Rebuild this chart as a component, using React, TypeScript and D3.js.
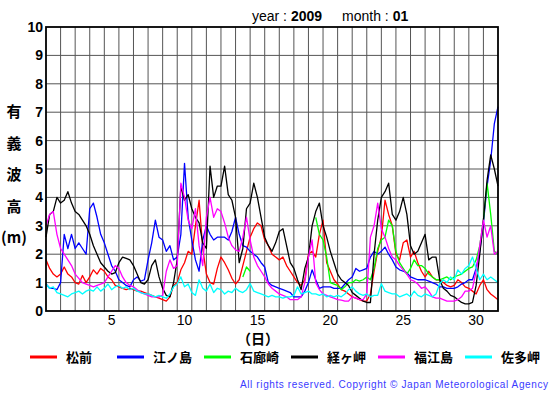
import * as d3 from "d3";

// 6-hourly significant wave height (m), Jan 2009, t = 1.00, 1.25, ... 32.00 (day)
const START_DAY = 1;
const STEP = 0.25;

const matsumae = [
  1.8, 1.5, 1.3, 1.2, 1.3, 1.55, 1.3, 1.2, 1.0, 0.95, 1.25, 1.0, 1.2, 1.45, 1.3, 1.5,
  1.4, 1.2, 1.1, 0.9, 0.85, 0.8, 0.75, 0.8, 0.75, 0.7, 0.7, 0.65, 0.6, 0.55, 0.5, 0.45,
  0.4, 0.35, 0.5, 0.9, 1.0, 1.45, 1.7, 2.1, 2.0, 3.0, 3.9, 2.2, 1.3, 1.0, 0.95, 1.5,
  1.9, 1.7, 1.45, 1.15, 0.95, 1.1, 1.6, 2.1, 2.6, 2.9, 3.1, 3.0, 2.5, 2.3, 2.0, 1.9,
  1.8, 1.9, 1.6, 1.4, 1.2, 1.0, 0.9, 1.1, 2.0, 2.1, 1.9, 2.7, 3.2, 1.7, 1.4, 1.1,
  0.95, 0.75, 0.7, 0.6, 0.5, 0.45, 0.4, 0.35, 0.35, 0.6, 1.4, 2.1, 2.6, 3.9, 3.4, 3.0,
  2.0, 1.8, 2.4, 2.5, 1.9, 2.1, 1.7, 1.4, 1.2, 1.4, 1.2, 1.1, 1.1, 1.0, 0.9, 0.85,
  0.9, 1.1, 1.0, 0.85, 0.8, 0.7, 0.6, 0.9, 1.1, 0.75, 0.6, 0.5, 0.4,
];

const enoshima = [
  0.95, 0.8, 0.8, 0.75, 1.0, 2.7, 2.2, 2.7, 2.2, 2.4, 2.2, 2.0, 3.6, 3.8, 3.3, 2.7,
  2.4, 2.0, 1.6, 1.4, 1.1, 1.0, 0.9, 0.85, 1.1, 1.2, 1.05, 1.1, 1.8, 2.4, 3.2, 2.6,
  2.5, 2.1, 2.3, 1.8, 1.9, 2.7, 5.2, 3.3, 2.5, 1.8, 1.4, 2.5, 3.0, 2.7, 2.5, 2.6,
  2.6, 2.6, 2.5, 2.8, 3.3, 2.7, 2.3, 2.25, 2.1, 2.0, 1.9, 1.7, 1.55, 1.0, 0.9, 0.85,
  0.8, 0.75, 0.7, 0.65, 0.5, 0.5, 0.5, 0.7, 1.0, 1.45, 1.1, 0.8, 0.85, 0.85, 0.85, 0.8,
  0.8, 0.8, 0.95, 1.1, 1.2, 1.5, 1.4, 1.45, 1.5, 1.9, 2.1, 2.0, 2.1, 2.25, 2.0, 1.8,
  1.55, 1.45, 1.4, 1.35, 1.2, 1.15, 1.1, 1.1, 1.1, 1.05, 1.0, 0.95, 0.85, 0.85, 0.8, 0.8,
  0.8, 0.85, 0.95, 1.0, 1.1, 1.1, 1.5, 2.1, 3.1, 4.4, 5.3, 6.6, 7.2,
];

// missing data before day 14.5 and between day 15 and day 19.5
const irozaki = [
  ...Array(54).fill(null),
  1.2, 1.55, 1.4,
  ...Array(17).fill(null),
  3.3, 2.7, 2.5, 1.9, 1.0, 0.95, 0.9, 0.75, 0.85, 1.0, 1.0, 1.1, 1.05, 1.1, 1.2, 1.1,
  1.5, 2.2, 2.5, 2.6, 3.2, 3.0, 2.1, 1.7, 1.5, 1.3, 1.5, 1.8, 1.6, 1.6, 1.5, 1.3,
  1.2, 1.1, 1.1, 1.15, 1.2, 1.1, 1.2, 1.25, 1.3, 1.4, 1.5, 1.55, 1.8, 2.3, 3.2, 4.5,
  3.4, 2.1, 2.0,
];

const kyogamisaki = [
  2.6, 3.4, 3.5, 4.0, 3.8, 3.9, 4.2, 3.8, 3.5, 3.4, 3.2, 3.0, 2.7, 2.3, 2.0, 1.7,
  1.55, 1.4, 1.3, 1.35, 1.7, 1.9, 1.85, 1.8, 1.6, 1.3, 1.0, 0.95, 1.1, 1.6, 1.8, 1.2,
  0.8, 0.55, 0.5, 1.0, 1.8, 4.4, 3.9, 4.1, 3.6, 3.3, 3.1, 2.4, 2.2, 5.1, 4.0, 4.4,
  4.4, 5.1, 4.1, 3.9, 3.3, 1.7, 2.2, 3.6, 3.8, 4.5, 4.0, 3.3, 2.6, 2.3, 2.1, 2.4,
  2.8, 2.9, 2.3, 1.7, 1.5, 1.1, 0.75, 1.5, 1.9, 3.0, 3.5, 3.8, 3.0, 2.6, 2.1, 1.7,
  1.3, 1.1, 1.0, 0.9, 0.65, 0.55, 0.45, 0.35, 0.3, 0.3, 2.0, 3.2, 4.0, 4.2, 4.5, 3.4,
  3.2, 3.5, 4.0, 3.4, 2.3, 2.0, 2.1, 2.4, 2.7, 1.8, 1.9, 1.9, 1.1, 0.8, 0.7, 0.55,
  0.5, 0.4, 0.3, 0.25, 0.25, 0.3, 0.9, 2.0, 3.2, 4.6, 5.5, 5.0, 4.4,
];

const fukuejima = [
  3.0, 3.4, 3.5, 2.7, 2.2, 2.0, 1.8, 1.6, 1.3, 1.15, 1.0, 0.95, 0.9, 0.85, 0.9, 0.95,
  1.0, 1.2, 1.4, 1.6, 1.5, 1.2, 1.0, 0.9, 0.85, 0.75, 0.65, 0.6, 0.55, 0.5, 0.5, 0.5,
  0.55, 1.4, 1.8, 1.5, 1.6, 4.5, 4.0, 3.2, 2.9, 3.6, 2.3, 1.6, 3.3, 4.0, 3.3, 3.6,
  3.5, 3.1, 2.6, 2.3, 2.15, 2.1, 2.6, 3.3, 2.5, 1.9, 1.6, 1.4, 1.2, 0.95, 0.8, 0.7,
  0.6, 0.55, 0.5, 0.4, 0.4, 0.4, 0.5, 1.0, 1.9, 2.5, 1.0, 0.75, 0.6, 0.55, 0.5, 0.45,
  0.4, 0.38, 0.35, 0.35, 0.5, 0.45, 0.4, 0.4, 0.6, 2.6, 3.0, 3.8, 2.9, 2.6, 2.2, 1.9,
  1.8, 1.6, 1.45, 1.3, 1.1, 1.05, 0.95, 0.8, 0.85, 0.7, 0.5, 0.45, 0.45, 0.4, 0.35, 0.35,
  0.35, 0.4, 0.5, 0.7, 0.7, 0.8, 1.4, 2.3, 3.2, 2.6, 3.0, 2.0, 2.1,
];

const satamisaki = [
  0.95, 0.8, 0.85, 0.65, 0.6, 0.55, 0.5, 0.6, 0.65, 0.7, 0.6, 0.7, 0.75, 0.7, 0.85, 0.7,
  0.8, 0.95, 0.75, 0.85, 0.9, 0.8, 0.85, 0.75, 0.8, 0.7, 0.65, 0.6, 0.6, 0.55, 0.5, 0.55,
  0.5, 0.45, 0.6, 0.85, 0.95, 1.2, 0.85, 0.95, 0.65, 0.55, 1.1, 0.8, 0.7, 0.95, 0.65, 0.8,
  0.75, 0.6, 0.7, 0.65, 0.8, 0.7, 0.65, 0.75, 0.97, 0.7, 0.65, 0.6, 0.55, 0.5, 0.55, 0.5,
  0.5, 0.45, 0.5, 0.5, 0.55, 0.85, 0.6, 0.65, 0.7, 0.6, 0.6, 0.55, 0.6, 0.5, 0.55, 0.5,
  0.55, 0.5, 0.6, 0.75, 0.85, 0.7, 0.6, 0.55, 0.6, 0.5, 0.55, 0.55, 0.96, 0.7, 0.65, 0.6,
  0.6, 0.5, 0.55, 0.6, 0.5, 0.7, 0.55, 0.5, 0.6, 0.55, 0.5, 0.6, 0.96, 1.1, 1.0, 1.2,
  1.1, 1.45, 1.3, 1.5, 1.6, 1.9, 1.5, 1.1, 1.3, 1.1, 1.2, 1.1, 1.0,
];

const stations = ["松前", "江ノ島", "石廊崎", "経ヶ岬", "福江島", "佐多岬"];
const seriesValues = [matsumae, enoshima, irozaki, kyogamisaki, fukuejima, satamisaki];
const colors = ["#ff0000", "#0000ff", "#00ff00", "#000000", "#ff00ff", "#00ffff"];

const yTicks = [0, 1, 2, 3, 4, 5, 6, 7, 8, 9, 10];
const xTickDays = [5, 10, 15, 20, 25, 30];
const yTitle = ["有", "義", "波", "高", "(m)"];

const W = 555;
const H = 395;

export default function App() {
  const x = d3.scaleLinear().domain([1, 32]).range([46, 498]);
  const y = d3.scaleLinear().domain([0, 10]).range([311, 27]);

  const line = d3
    .line<number | null>()
    .defined((d) => d !== null)
    .x((_, i) => x(START_DAY + i * STEP))
    .y((d) => y(d as number));

  const dayLines = d3.range(2, 32);
  const legendX = d3.scalePoint<string>().domain(stations).range([30, 465]);

  return (
    <svg
      width={W}
      height={H}
      style={{ position: "absolute", left: 0, top: 0, background: "#fff" }}
      fontFamily="'Liberation Sans', Arial, sans-serif"
    >
      <rect width={W} height={H} fill="#fff" />

      {/* title */}
      <text x={252} y={21} fontSize={14} fill="#000">
        year : <tspan fontWeight="bold">2009</tspan>
        <tspan dx={20}>month : </tspan>
        <tspan fontWeight="bold">01</tspan>
      </text>

      {/* grid */}
      <g stroke="#555" strokeWidth={1}>
        {dayLines.map((d) => (
          <line key={"v" + d} x1={x(d)} x2={x(d)} y1={y(10)} y2={y(0)} />
        ))}
        {yTicks.slice(1, -1).map((v) => (
          <line key={"h" + v} x1={x(1)} x2={x(32)} y1={y(v)} y2={y(v)} />
        ))}
      </g>

      {/* series */}
      <g fill="none" strokeWidth={1.3} strokeLinejoin="round">
        {seriesValues.map((vals, k) => (
          <path key={stations[k]} d={line(vals) || ""} stroke={colors[k]} />
        ))}
      </g>

      {/* frame */}
      <rect
        x={x(1)}
        y={y(10)}
        width={x(32) - x(1)}
        height={y(0) - y(10)}
        fill="none"
        stroke="#000"
        strokeWidth={1.8}
      />

      {/* y tick labels */}
      <g fontWeight="bold" fontSize={14} textAnchor="end">
        {yTicks.map((v) => (
          <text key={v} x={43} y={y(v) + 5}>
            {v}
          </text>
        ))}
      </g>

      {/* x tick labels, centred in the day */}
      <g fontSize={14} textAnchor="middle">
        {xTickDays.map((d) => (
          <text key={d} x={x(d + 0.5)} y={325}>
            {d}
          </text>
        ))}
      </g>

      <text
        x={258}
        y={344}
        fontSize={14}
        fontWeight="bold"
        textAnchor="middle"
        fontFamily="'Noto Sans CJK JP', sans-serif"
      >
        （日）
      </text>

      {/* y title */}
      <g fontSize={15} fontWeight="bold" textAnchor="middle" fontFamily="'Noto Sans CJK JP', sans-serif">
        {yTitle.map((c, i) => (
          <text key={i} x={14} y={117 + i * 31.5}>
            {c}
          </text>
        ))}
      </g>

      {/* legend */}
      <g fontFamily="'Noto Sans CJK JP', sans-serif" fontSize={13} fontWeight="bold">
        {stations.map((s, k) => {
          const lx = legendX(s) as number;
          return (
            <g key={s}>
              <line x1={lx} x2={lx + 27} y1={357} y2={357} stroke={colors[k]} strokeWidth={3} />
              <text x={lx + 36} y={362}>
                {s}
              </text>
            </g>
          );
        })}
      </g>

      <text x={240} y={388} fontSize={10} fill="#3a3aff" textLength={308} lengthAdjust="spacing">
        All rights reserved. Copyright © Japan Meteorological Agency
      </text>
    </svg>
  );
}
